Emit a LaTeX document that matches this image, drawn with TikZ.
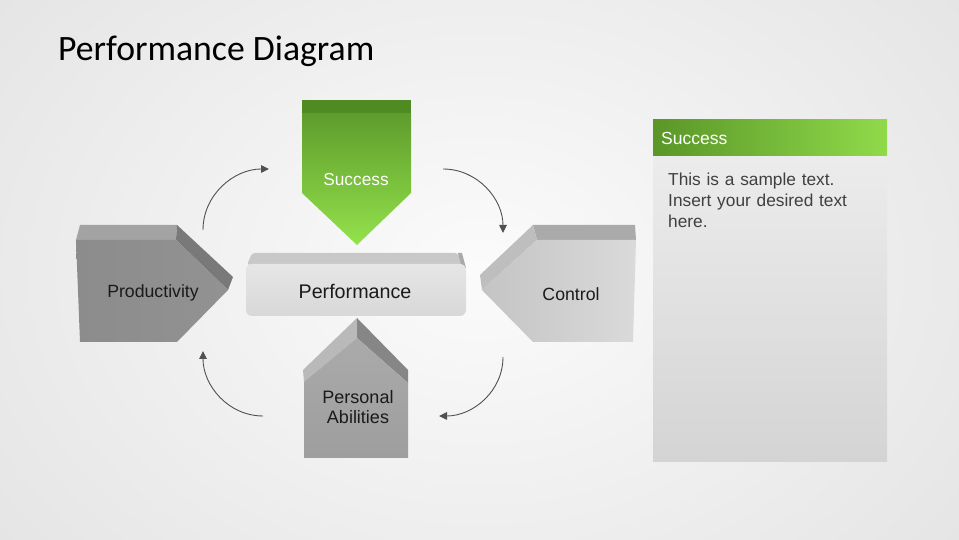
\documentclass[tikz,border=0pt]{standalone}
\usepackage{fontspec}
\setmainfont{Liberation Sans}
\newfontfamily\titlefont{Carlito}
\usetikzlibrary{arrows.meta}
\definecolor{bgout}{HTML}{E4E4E4}
\definecolor{bgin}{HTML}{FBFBFB}
\definecolor{gdark}{HTML}{4F8A22}
\definecolor{gtop}{HTML}{5E9C2C}
\definecolor{gbot}{HTML}{94E24C}
\definecolor{hdleft}{HTML}{5A9628}
\definecolor{hdright}{HTML}{90DA4A}
\definecolor{txt}{HTML}{1A1A1A}
\definecolor{bodytxt}{HTML}{404040}
\definecolor{arr}{HTML}{505050}
\definecolor{prodtop}{HTML}{A3A3A3}
\definecolor{prodside}{HTML}{797979}
\definecolor{prodl}{HTML}{8C8C8C}
\definecolor{prodr}{HTML}{929292}
\definecolor{ctop}{HTML}{AAAAAA}
\definecolor{cbevel}{HTML}{BEBEBE}
\definecolor{cl}{HTML}{C4C4C4}
\definecolor{cr}{HTML}{DADADA}
\definecolor{pleft}{HTML}{B9B9B9}
\definecolor{pright}{HTML}{868686}
\definecolor{pft}{HTML}{AAAAAA}
\definecolor{pfb}{HTML}{9E9E9E}
\definecolor{perftop}{HTML}{C8C8C8}
\definecolor{perfend}{HTML}{A9A9A9}
\definecolor{perft}{HTML}{E6E6E6}
\definecolor{perfb}{HTML}{D8D8D8}
\definecolor{panelt}{HTML}{ECECEC}
\definecolor{panelb}{HTML}{D4D4D4}
\tikzset{
  lbl/.style={font=\fontsize{17.7}{20}\selectfont, text=txt, align=center, inner sep=0pt},
  cyc/.style={draw=arr, line width=0.9pt, -{Triangle[length=8pt,width=7.5pt]}},
}
\begin{document}
\begin{tikzpicture}[x=1pt,y=1pt]
\useasboundingbox (0,0) rectangle (959,540);
% background
\fill[bgout] (0,0) rectangle (959,540);
\shade[inner color=bgin, outer color=bgout] (-150,-200) rectangle (1109,740);
% title
\node[anchor=base west, inner sep=0pt, font=\titlefont\fontsize{35.7}{40}\selectfont, text=black] (title) at (58,479) {Performance Diagram};

% Success (green, pointing down)
\shade[top color=gtop, bottom color=gbot] (302,427) -- (411,427) -- (411,347) -- (357,295) -- (302,347) -- cycle;
\fill[gdark] (302,440) rectangle (411,427);
\node[lbl, text=white, font=\fontsize{17.3}{20}\selectfont] (success) at (356,360) {Success};

% Productivity (pointing right)
\fill[prodtop] (80,315) -- (177,315) -- (176,300) -- (76,300) -- cycle;
\fill[prodside] (177,315) -- (233,263) -- (228,250) -- (176,300) -- cycle;
\shade[left color=prodl, right color=prodr] (76,300) -- (176,300) -- (228,250) -- (177,198) -- (80,198) -- cycle;
\node[lbl] (prod) at (153,247) {Productivity};

% Control (pointing left)
\fill[ctop] (533,315) -- (635,315) -- (636,300) -- (537,300) -- cycle;
\fill[cbevel] (533,315) -- (480,265) -- (482,250) -- (537,300) -- cycle;
\shade[left color=cl, right color=cr] (537,300) -- (636,300) -- (633,198) -- (533,198) -- (482,250) -- cycle;
\node[lbl] (control) at (571,246) {Control};

% Personal Abilities (pointing up)
\fill[pleft] (357,222) -- (303,170) -- (304,158) -- (357,202) -- cycle;
\fill[pright] (357,222) -- (408,170) -- (408,157) -- (357,202) -- cycle;
\shade[top color=pft, bottom color=pfb] (304,158) -- (357,202) -- (408,157) -- (408,82) -- (304,82) -- cycle;
\node[lbl, font=\fontsize{18}{20.5}\selectfont] (personal) at (358,133) {Personal\\Abilities};

% Performance (centre box)
\fill[perftop, rounded corners=3pt] (252,287) -- (458,287) -- (462,275) -- (247,275) -- cycle;
\fill[perfend] (458,287) -- (462,287) -- (466,272) -- (462,272) -- cycle;
\shade[top color=perft, bottom color=perfb, rounded corners=6pt] (246,224) rectangle (466,276);
\node[lbl, font=\fontsize{19.7}{22}\selectfont] (perf) at (355,249) {Performance};

% cycle arrows
\coordinate (a1s) at (203,310);
\coordinate (a1e) at (269,371);
\coordinate (a2s) at (443,371);
\coordinate (a2e) at (503,307);
\coordinate (a3s) at (503,183);
\coordinate (a3e) at (439,124);
\coordinate (a4s) at (263,124);
\coordinate (a4e) at (203,189);
\draw[cyc] (a1s) to[out=90,in=180] (a1e);
\draw[cyc] (a2s) to[out=0,in=90] (a2e);
\draw[cyc] (a3s) to[out=270,in=0] (a3e);
\draw[cyc] (a4s) to[out=180,in=270] (a4e);

% right panel
\shade[top color=panelt, bottom color=panelb] (653,384) rectangle (887,78);
\shade[left color=hdleft, right color=hdright] (653,420) rectangle (887,384);
\node[anchor=west, inner sep=0pt, text=white, font=\fontsize{17.5}{20}\selectfont] (panelhead) at (661,402) {Success};
\node[anchor=north west, inner sep=0pt, text=bodytxt, align=left, text width=210pt, font=\fontsize{17.3}{21}\selectfont] (panelbody) at (668,367) {This is a sample text.\\Insert your desired text\\here.};
\end{tikzpicture}
\end{document}
